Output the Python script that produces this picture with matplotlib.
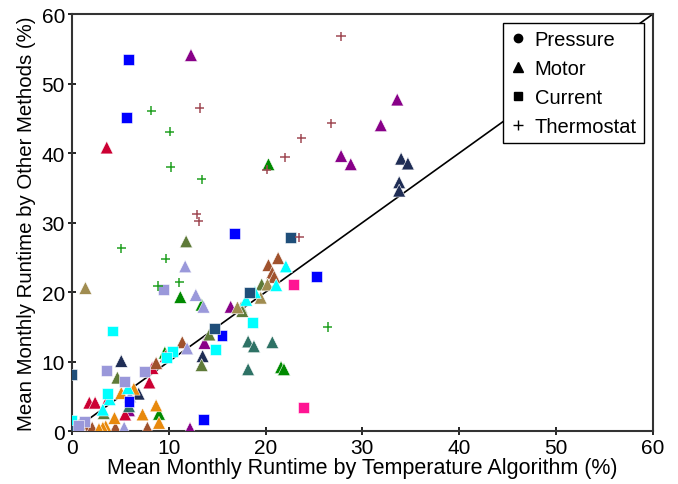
import numpy as np
import matplotlib.pyplot as plt
from matplotlib.lines import Line2D

plt.rcParams['font.family'] = ['Liberation Sans', 'DejaVu Sans']

# colours of the individual sites
palette = {
    'purple': '#880088', 'navy': '#1f2d55', 'green': '#008a00', 'crimson': '#cc0033',
    'brown': '#a0522d', 'orange': '#e8890c', 'olive': '#5e7a38', 'tan': '#a08c50',
    'teal': '#2e7265', 'lavender': '#9a98da', 'cyan': '#00ffff', 'blue': '#0000ff',
    'steel': '#1f4e79', 'pink': '#ff1493', 'rosy': '#a04a55', 'tgreen': '#22a022',
}

# Motor method (triangles)
motor_x = [12.3, 33.6, 31.9, 27.8, 28.8, 13.7, 16.4, 12.2, 5.9,
           34.0, 34.7, 33.8, 33.8, 5.1, 13.5, 6.9,
           20.3, 11.2, 13.4, 21.6, 21.9, 9.0, 9.6,
           3.6, 1.8, 2.4, 3.8, 8.0, 8.3, 5.5, 9.7, 0.5,
           21.3, 20.3, 20.7, 20.9, 11.4, 8.7, 1.6, 2.1, 4.5, 7.8, 0.8,
           8.7, 7.3, 9.0, 3.5, 3.2, 4.4, 5.1, 6.4, 2.8,
           11.8, 19.6, 17.5, 14.2, 13.4, 4.7, 3.3, 17.6,
           1.4, 20.2, 19.5, 17.1, 0.6,
           18.2, 18.8, 20.7, 18.2, 5.9,
           11.7, 12.8, 13.6, 11.9, 5.4, 6.0,
           22.1, 21.1, 18.9, 18.0, 3.9, 3.2, 5.8]
motor_y = [54.1, 47.7, 44.0, 39.6, 38.4, 12.7, 17.9, 0.4, 3.0,
           39.2, 38.5, 35.8, 34.6, 10.1, 10.8, 5.4,
           38.4, 19.3, 18.2, 9.2, 8.9, 2.5, 11.3,
           40.8, 4.1, 4.1, 4.8, 7.0, 9.1, 2.4, 10.8, 0.7,
           24.9, 23.9, 22.8, 22.2, 12.8, 9.8, 0.5, 0.5, 0.5, 0.5, 1.0,
           3.7, 2.4, 1.2, 0.7, 0.5, 1.9, 5.5, 6.1, 0.3,
           27.3, 21.1, 17.8, 13.9, 9.5, 7.7, 2.6, 17.3,
           20.6, 21.1, 19.2, 17.8, 0.3,
           12.9, 12.2, 12.8, 8.9, 3.6,
           23.7, 19.6, 17.9, 11.9, 0.5, 5.0,
           23.7, 21.0, 20.0, 18.9, 4.6, 3.1, 6.2]
motor_c = (['purple'] * 9 + ['navy'] * 7 + ['green'] * 7 + ['crimson'] * 9 +
           ['brown'] * 11 + ['orange'] * 9 + ['olive'] * 8 + ['tan'] * 5 +
           ['teal'] * 5 + ['lavender'] * 6 + ['cyan'] * 7)

# Current method (squares)
current_x = [5.8, 5.6, 16.8, 25.3, 15.5, 13.6, 5.9,
             22.6, 18.3, 14.7, 0.0, 0.3,
             22.9, 23.9,
             4.2, 18.7, 14.8, 10.4, 0.0, 3.7, 9.8,
             9.5, 3.6, 7.5, 5.4, 1.3, 0.7]
current_y = [53.4, 45.1, 28.4, 22.2, 13.8, 1.7, 4.3,
             27.8, 19.9, 14.7, 8.1, 0.2,
             21.1, 3.4,
             14.4, 15.6, 11.8, 11.5, 1.6, 5.4, 10.6,
             20.4, 8.7, 8.6, 7.1, 1.4, 0.8]
current_c = (['blue'] * 7 + ['steel'] * 5 + ['pink'] * 2 + ['cyan'] * 7 +
             ['lavender'] * 6)

# Thermostat method (plus)
thermo_x = [27.8, 13.2, 26.8, 23.7, 22.0, 20.1, 12.9, 13.1, 23.5,
            8.2, 10.1, 10.2, 13.4, 5.1, 9.7, 8.9, 11.1, 26.4]
thermo_y = [56.8, 46.5, 44.3, 42.1, 39.4, 37.6, 31.2, 30.2, 27.9,
            46.1, 43.1, 38.0, 36.2, 26.3, 24.8, 20.9, 21.4, 15.0]
thermo_c = ['rosy'] * 9 + ['tgreen'] * 9

fig = plt.figure(figsize=(6.78, 4.85), dpi=100)
ax = fig.add_axes([0.106, 0.109, 0.857, 0.860])

# 1:1 line
ax.plot([0, 60], [0, 60], color='black', lw=1.2, zorder=1)

ax.scatter(motor_x, motor_y, marker='^', s=85, c=[palette[k] for k in motor_c],
           edgecolors='white', linewidths=0.4, zorder=3)
ax.scatter(current_x, current_y, marker='s', s=62, c=[palette[k] for k in current_c],
           edgecolors='white', linewidths=0.4, zorder=3)
ax.scatter(thermo_x, thermo_y, marker='+', s=45, c=[palette[k] for k in thermo_c],
           linewidths=1.1, zorder=3)

ax.set_xlim(0, 60)
ax.set_ylim(0, 60)
ax.set_xticks(np.arange(0, 61, 10))
ax.set_yticks(np.arange(0, 61, 10))
ax.tick_params(direction='inout', length=6, width=1.2, labelsize=15, pad=2)
for sp in ax.spines.values():
    sp.set_linewidth(1.5)
    sp.set_color('#333333')

ax.set_xlabel('Mean Monthly Runtime by Temperature Algorithm (%)', fontsize=15.5, labelpad=0)
ax.set_ylabel('Mean Monthly Runtime by Other Methods (%)', fontsize=14.7, labelpad=4)

handles = [
    Line2D([], [], ls='', marker='o', color='black', markersize=6),
    Line2D([], [], ls='', marker='^', color='black', markersize=7),
    Line2D([], [], ls='', marker='s', color='black', markersize=6),
    Line2D([], [], ls='', marker='+', color='black', markersize=7),
]
leg = ax.legend(handles, ['Pressure', 'Motor', 'Current', 'Thermostat'],
                loc='upper right', fontsize=14.5, frameon=True, fancybox=False,
                edgecolor='black', framealpha=1, handlelength=0.7,
                handletextpad=0.5, labelspacing=0.5, borderpad=0.35,
                borderaxespad=0.45)
leg.get_frame().set_linewidth(1.0)
leg.set_zorder(5)

fig.savefig('out.png', dpi=100)
